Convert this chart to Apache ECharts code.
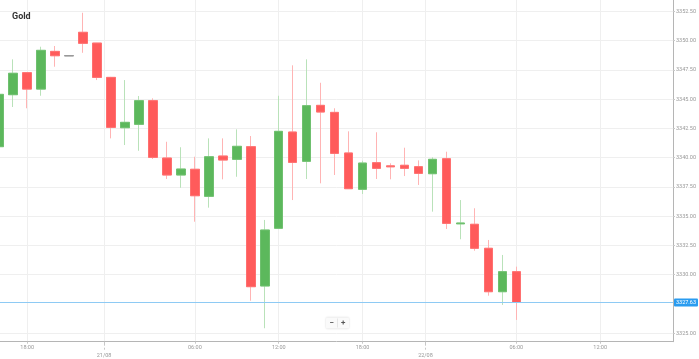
<!DOCTYPE html>
<html><head><meta charset="utf-8">
<script src="https://cdn.jsdelivr.net/npm/echarts@6/dist/echarts.min.js"></script>
<style>html,body{margin:0;padding:0;background:#fff}#c{width:699px;height:359px}</style>
</head><body><div id="c"></div>
<script>
// hourly candles, x = slot index
const times = ['20/08 16:00','20/08 17:00','20/08 18:00','20/08 19:00','20/08 20:00','20/08 21:00','20/08 22:00','20/08 23:00',
  '21/08 00:00','21/08 01:00','21/08 02:00','21/08 03:00','21/08 04:00','21/08 05:00','21/08 06:00','21/08 07:00',
  '21/08 08:00','21/08 09:00','21/08 10:00','21/08 11:00','21/08 12:00','21/08 13:00','21/08 14:00','21/08 15:00',
  '21/08 16:00','21/08 17:00','21/08 18:00','21/08 19:00','21/08 20:00','21/08 21:00','21/08 23:00',
  '22/08 00:00','22/08 01:00','22/08 02:00','22/08 03:00','22/08 04:00','22/08 05:00','22/08 06:00'];
const openVals  = [3340.94,3345.38,3347.26,3345.86,3349.08,3348.71,3350.71,3349.79,3346.86,3342.56,3342.85,3344.87,3339.97,3338.52,3339.01,3336.70,3340.14,3339.86,3340.94,3329.04,3333.97,3342.19,3339.69,3344.47,3343.87,3340.40,3337.30,3339.57,3339.30,3339.35,3339.23,3338.63,3339.91,3334.35,3334.31,3332.26,3328.55,3330.26];
const closeVals = [3345.41,3347.21,3345.86,3349.17,3348.71,3348.71,3349.77,3346.86,3342.59,3343.02,3344.87,3340.03,3338.52,3339.03,3336.75,3340.08,3339.80,3340.97,3328.98,3333.82,3342.25,3339.60,3344.44,3343.90,3340.37,3337.35,3339.54,3339.09,3339.22,3339.09,3338.66,3339.86,3334.39,3334.42,3332.26,3328.55,3330.26,3327.63];
const lowVals   = [3340.50,3344.33,3344.22,3345.29,3347.77,3348.71,3348.96,3346.63,3341.65,3341.08,3340.59,3339.89,3338.18,3337.43,3334.53,3335.73,3338.15,3338.37,3327.78,3325.43,3333.97,3336.38,3338.18,3337.81,3338.52,3337.35,3336.90,3338.18,3338.15,3338.43,3337.67,3335.39,3333.91,3333.03,3332.05,3328.21,3327.42,3326.14];
const highVals  = [3346.00,3348.40,3347.30,3349.48,3349.54,3348.71,3352.38,3349.80,3346.90,3346.63,3345.27,3345.07,3341.36,3340.89,3340.08,3341.65,3341.65,3342.42,3341.85,3334.68,3345.29,3347.89,3348.40,3346.40,3344.22,3342.25,3339.74,3342.17,3339.52,3340.85,3339.77,3340.03,3340.51,3336.38,3335.68,3332.97,3331.69,3330.69];
const timeTickSlots  = [2, 14, 20, 26, 37, 43];
const timeTickLabels = ['18:00','06:00','12:00','18:00','06:00','12:00'];
const dateTickSlots  = [7.5, 30.5];
const dateTickLabels = ['21/08','22/08'];
const priceTicks = [3325, 3330, 3332.5, 3335, 3337.5, 3340, 3342.5, 3345, 3347.5, 3350, 3352.5];
const lastPrice = 3327.63;
const titleText = 'Gold';

const X_MIN = 0.057, X_MAX = 48.21, Y_MIN = 3324.28, Y_MAX = 3353.47;
const FONT = 'Roboto';
const gray = '#999999';

function isDoji(i){ return openVals[i] === closeVals[i]; }
const wickData = times.map((t, i) => {
  const item = { value: [i, openVals[i], closeVals[i], lowVals[i], highVals[i]] };
  if (isDoji(i)) item.itemStyle = { color: gray, color0: gray, borderColor: gray, borderColor0: gray };
  return item;
});
const bodyData = times.map((t, i) => {
  const lo = Math.min(openVals[i], closeVals[i]), hi = Math.max(openVals[i], closeVals[i]);
  const item = { value: [i, openVals[i], closeVals[i], lo, hi] };
  if (isDoji(i)) item.itemStyle = { color: gray, color0: gray, borderColor: gray, borderColor0: gray };
  return item;
});

function lookup(slots, labels){ return v => { const k = slots.findIndex(s => Math.abs(s - v) < 1e-6); return k >= 0 ? labels[k] : ''; }; }

const chart = echarts.init(document.getElementById('c'), null, { renderer: 'canvas' });
chart.setOption({
  animation: false,
  backgroundColor: '#ffffff',
  title: { text: titleText, left: 7, top: 7, textStyle: { fontFamily: FONT, fontSize: 9, fontWeight: 'bold', color: '#333' } },
  grid: { left: 0, right: 22, top: 0, bottom: 17.3, containLabel: false },
  xAxis: [
    { type: 'value', min: X_MIN, max: X_MAX, position: 'bottom',
      axisLine: { show: true, lineStyle: { color: '#b5b5b5', width: 1 } },
      axisTick: { show: true, length: 2, customValues: timeTickSlots, lineStyle: { color: '#c8c8c8' } },
      axisLabel: { customValues: timeTickSlots, formatter: lookup(timeTickSlots, timeTickLabels), fontFamily: FONT, fontSize: 5.5, color: '#999', margin: 3 },
      splitLine: { show: true, lineStyle: { color: '#efefef', width: 1 } } },
    { type: 'value', min: X_MIN, max: X_MAX, position: 'bottom',
      axisLine: { show: false },
      axisTick: { show: true, length: 8, customValues: dateTickSlots, lineStyle: { color: '#c8c8c8', type: 'dashed' } },
      axisLabel: { customValues: dateTickSlots, formatter: lookup(dateTickSlots, dateTickLabels), fontFamily: FONT, fontSize: 5.5, color: '#999', margin: 10.5 },
      splitLine: { show: true, lineStyle: { color: '#efefef', width: 1 } } }
  ],
  yAxis: { type: 'value', position: 'right', min: Y_MIN, max: Y_MAX, scale: true,
    axisLine: { show: true, lineStyle: { color: '#b5b5b5', width: 1 } },
    axisTick: { show: true, length: 2, customValues: priceTicks, lineStyle: { color: '#c8c8c8' } },
    axisLabel: { customValues: priceTicks, formatter: v => v.toFixed(2), fontFamily: FONT, fontSize: 5.5, color: '#999', margin: 3 },
    splitLine: { show: true, lineStyle: { color: '#efefef', width: 1 } } },
  series: [
    { type: 'candlestick', name: 'wick', xAxisIndex: 0, barWidth: 9, data: wickData,
      itemStyle: { color: '#b9e2b9', color0: '#ffb4b4', borderColor: '#b9e2b9', borderColor0: '#ffb4b4', borderWidth: 1 } },
    { type: 'candlestick', name: 'body', xAxisIndex: 0, barWidth: 9, data: bodyData,
      itemStyle: { color: '#5cb85c', color0: '#ff5b5b', borderColor: '#6fc06f', borderColor0: '#ff7070', borderWidth: 1 },
      markLine: { silent: true, symbol: 'none', animation: false,
        data: [{ yAxis: lastPrice }],
        lineStyle: { color: '#8ecaf4', width: 1.2, type: 'solid' },
        label: { show: true, position: 'end', distance: 1, formatter: lastPrice.toFixed(2), backgroundColor: '#2a9cf0', color: '#fff', fontFamily: FONT, fontSize: 5.5, padding: [1, 2], borderRadius: 1 } } }
  ],
  graphic: [
    { type: 'group', left: 326, top: 316, children: [
      { type: 'rect', shape: { x: 0, y: 0, width: 23, height: 11, r: 1 }, style: { fill: '#fafafa', shadowBlur: 2, shadowColor: 'rgba(0,0,0,0.18)' } },
      { type: 'line', shape: { x1: 11.5, y1: 1, x2: 11.5, y2: 10 }, style: { stroke: '#e6e6e6', lineWidth: 1 } },
      { type: 'text', x: 5.8, y: 5.5, style: { text: '−', font: 'bold 8px Roboto', fill: '#555', align: 'center', verticalAlign: 'middle' } },
      { type: 'text', x: 17.3, y: 5.5, style: { text: '+', font: 'bold 8px Roboto', fill: '#555', align: 'center', verticalAlign: 'middle' } }
    ]}
  ]
});
</script></body></html>
